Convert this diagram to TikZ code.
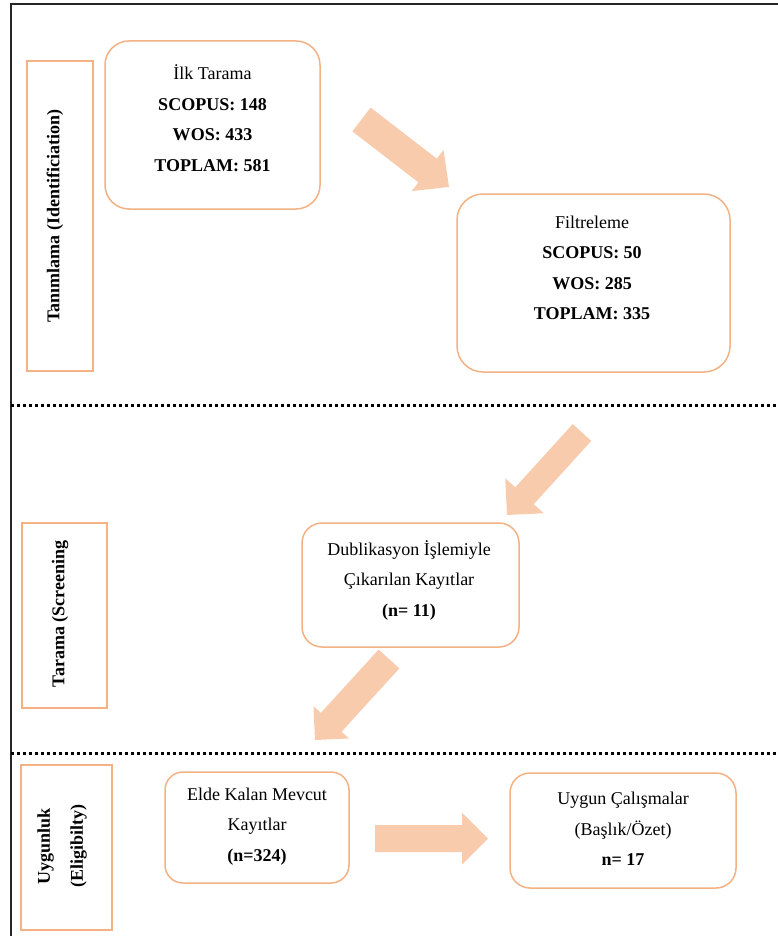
\documentclass[tikz,border=0pt]{standalone}
\usepackage{fontspec}
\setmainfont{Liberation Serif}
\usetikzlibrary{calc}
\definecolor{boxc}{HTML}{F4B183}
\definecolor{arrc}{HTML}{F8CBAD}
\newcommand{\myblockarrow}[5]{%
  \coordinate (tmpC) at ($(#2)!#5!(#1)$);
  \fill[arrc] ($(#1)!#3!90:(#2)$) -- ($(tmpC)!#3!-90:(#1)$) -- ($(tmpC)!#4!-90:(#1)$) -- (#2)
    -- ($(tmpC)!#4!90:(#1)$) -- ($(tmpC)!#3!90:(#1)$) -- ($(#1)!#3!-90:(#2)$) -- cycle;
}
\begin{document}
\begin{tikzpicture}[x=1pt,y=-1pt,
  rbox/.style={draw=boxc, line width=1.5pt, rounded corners=#1, fill=white},
  rbox/.default=22pt,
  sidebox/.style={draw=boxc, line width=1.5pt},
  txt/.style={align=center, font=\fontsize{18}{30.5}\selectfont, inner sep=0pt},
  sidetxt/.style={rotate=90, align=center, font=\fontsize{18}{33}\selectfont\bfseries, inner sep=0pt},
  sep/.style={line width=3pt, dash pattern=on 3.2pt off 2.8pt},
  frame/.style={line width=1.6pt, black!85}]
\useasboundingbox (0,0) rectangle (778,936);
% frame
\coordinate (ftr) at (778,4);
\coordinate (ftl) at (11,4);
\coordinate (fbl) at (11,936);
\draw[frame] (ftr) -- (ftl) -- (fbl);
% separators
\coordinate (s1l) at (11,405); \coordinate (s1r) at (778,405);
\coordinate (s2l) at (11,753); \coordinate (s2r) at (778,753);
\draw[sep] (s1l) -- (s1r);
\draw[sep] (s2l) -- (s2r);
% side boxes
\node[sidebox, minimum width=66pt, minimum height=310pt] (sb1) at (60,216) {};
\node[sidetxt] (st1) at (55,216) {Tanımlama (Identificiation)};
\node[sidebox, minimum width=85pt, minimum height=185pt] (sb2) at (64.5,615.5) {};
\node[sidetxt] (st2) at (60,614) {Tarama (Screening};
\node[sidebox, minimum width=91pt, minimum height=165pt] (sb3) at (66.5,847.5) {};
\node[sidetxt] (st3) at (62,846) {Uygunluk\\(Eligibilty)};
% boxes
\node[rbox=24pt, minimum width=215pt, minimum height=168pt] (b1) at (212.5,125) {};
\node[txt] (t1) at (212.5,118) {İlk Tarama\\\textbf{SCOPUS: 148}\\\textbf{WOS: 433}\\\textbf{TOPLAM: 581}};
\node[rbox=26pt, minimum width=273pt, minimum height=178pt] (b2) at (593.5,283) {};
\node[txt] (t2) at (592,268) {Filtreleme\\\textbf{SCOPUS: 50}\\\textbf{WOS: 285}\\\textbf{TOPLAM: 335}};
\node[rbox=20pt, minimum width=217pt, minimum height=124pt] (b3) at (410.5,585) {};
\node[txt] (t3) at (409,580) {Dublikasyon İşlemiyle\\Çıkarılan Kayıtlar\\\textbf{(n= 11)}};
\node[rbox=18pt, minimum width=184pt, minimum height=111pt] (b4) at (257,827.5) {};
\node[txt] (t4) at (257,826.5) {Elde Kalan Mevcut\\Kayıtlar\\\textbf{(n=324)}};
\node[rbox=20pt, minimum width=226pt, minimum height=115pt] (b5) at (623,830.5) {};
\node[txt] (t5) at (623,829) {Uygun Çalışmalar\\(Başlık/Özet)\\\textbf{n= 17}};
% block arrows
\coordinate (a1t) at (361.5,119.5); \coordinate (a1h) at (449,187);
\coordinate (a2t) at (582,432.5);   \coordinate (a2h) at (507,515);
\coordinate (a3t) at (389,659);     \coordinate (a3h) at (315,740);
\coordinate (a4t) at (375,838.5);   \coordinate (a4h) at (488,838.5);
\myblockarrow{a1t}{a1h}{15pt}{26pt}{27pt}
\myblockarrow{a2t}{a2h}{12.5pt}{26pt}{26pt}
\myblockarrow{a3t}{a3h}{14pt}{24pt}{24pt}
\myblockarrow{a4t}{a4h}{13.5pt}{26pt}{26pt}
\end{tikzpicture}
\end{document}
